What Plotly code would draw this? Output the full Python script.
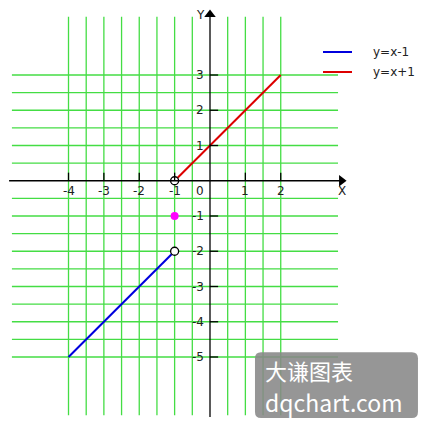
import plotly.graph_objects as go

# data
blue_x = [-4, -1]
blue_y = [-5, -2]
red_x = [-1, 2]
red_y = [0, 3]
open_x = [-1, -1]
open_y = [0, -2]
dot_x = [-1]
dot_y = [-1]

x_ticks = [-4, -3, -2, -1, 1, 2]
y_ticks = [3, 2, 1, -1, -2, -3, -4, -5]
x_grid = [-4, -3.5, -3, -2.5, -2, -1.5, -1, -0.5, 0.5, 1, 1.5, 2]
y_grid = [3, 2.5, 2, 1.5, 1, 0.5, -0.5, -1, -1.5, -2, -2.5, -3, -3.5, -4, -4.5, -5]

series_names = ["y=x-1", "y=x+1"]
series_colors = ["#0000dd", "#dd0000"]

GREEN = "#44dd44"
FONT = "DejaVu Sans"


def px(xp):
    return xp / 430


def py(yp):
    return 1 - yp / 430


fig = go.Figure()

shapes = []
for gx in x_grid:
    shapes.append(dict(type="line", xref="x", yref="y", x0=gx, x1=gx, y0=4.65, y1=-6.65,
                       line=dict(color=GREEN, width=1.3), layer="below"))
for gy in y_grid:
    shapes.append(dict(type="line", xref="x", yref="y", x0=-5.6, x1=3.62, y0=gy, y1=gy,
                       line=dict(color=GREEN, width=1.3), layer="below"))

# axes
shapes.append(dict(type="line", xref="x", yref="y", x0=-5.68, x1=3.7, y0=0, y1=0,
                   line=dict(color="black", width=1.3)))
shapes.append(dict(type="line", xref="x", yref="y", x0=0, x1=0, y0=4.7, y1=-6.7,
                   line=dict(color="black", width=1.3)))
for tx in x_ticks:
    shapes.append(dict(type="line", xref="x", yref="y", x0=tx, x1=tx, y0=0, y1=0.23,
                       line=dict(color="black", width=1.3)))
for ty in y_ticks:
    shapes.append(dict(type="line", xref="x", yref="y", x0=0, x1=0.23, y0=ty, y1=ty,
                       line=dict(color="black", width=1.3)))

# legend (drawn by hand to match the spacing)
ann = []
for i, (nm, col) in enumerate(zip(series_names, series_colors)):
    yl = 52 + 20 * i
    shapes.append(dict(type="line", xref="paper", yref="paper", x0=px(323), x1=px(352),
                       y0=py(yl), y1=py(yl), line=dict(color=col, width=2)))
    ann.append(dict(x=px(371), y=py(yl), xref="paper", yref="paper", text=nm,
                    showarrow=False, xanchor="left", yanchor="middle",
                    font=dict(family=FONT, size=12, color="#222")))

# watermark box
shapes.append(dict(type="path", xref="paper", yref="paper",
                   path="M 0.607,0.181 L 0.958,0.181 Q 0.972,0.181 0.972,0.167 "
                        "L 0.972,0.042 Q 0.972,0.028 0.958,0.028 L 0.607,0.028 "
                        "Q 0.593,0.028 0.593,0.042 L 0.593,0.167 Q 0.593,0.181 0.607,0.181 Z",
                   fillcolor="rgba(135,135,135,0.88)", line=dict(width=0), layer="above"))

fig.add_trace(go.Scatter(x=blue_x, y=blue_y, mode="lines", name=series_names[0],
                         line=dict(color=series_colors[0], width=2)))
fig.add_trace(go.Scatter(x=red_x, y=red_y, mode="lines", name=series_names[1],
                         line=dict(color=series_colors[1], width=2)))
fig.add_trace(go.Scatter(x=open_x, y=open_y, mode="markers",
                         marker=dict(color="white", size=8, line=dict(color="black", width=1.3))))
fig.add_trace(go.Scatter(x=dot_x, y=dot_y, mode="markers",
                         marker=dict(color="#ff00ff", size=8)))
# arrow heads
fig.add_trace(go.Scatter(x=[3.72], y=[0], mode="markers",
                         marker=dict(symbol="triangle-right", color="black", size=10)))
fig.add_trace(go.Scatter(x=[0], y=[4.72], mode="markers",
                         marker=dict(symbol="triangle-up", color="black", size=10)))

for tx in x_ticks:
    ann.append(dict(x=tx, y=-0.28, xref="x", yref="y", text=str(tx), showarrow=False,
                    font=dict(family=FONT, size=12, color="#222")))
ann.append(dict(x=-0.28, y=-0.28, xref="x", yref="y", text="0", showarrow=False,
                font=dict(family=FONT, size=12, color="#222")))
for ty in y_ticks:
    ann.append(dict(x=-0.1, y=ty, xref="x", yref="y", text=str(ty), showarrow=False,
                    xanchor="right", font=dict(family=FONT, size=12, color="#222")))
ann.append(dict(x=3.72, y=-0.28, xref="x", yref="y", text="X", showarrow=False,
                font=dict(family=FONT, size=12, color="#222")))
ann.append(dict(x=-0.28, y=4.7, xref="x", yref="y", text="Y", showarrow=False,
                font=dict(family=FONT, size=12, color="#222")))
ann.append(dict(x=px(263), y=py(370), xref="paper", yref="paper",
                text="大谦图表", showarrow=False, xanchor="left", yanchor="middle",
                font=dict(family="Noto Sans CJK SC", size=22, color="white")))
ann.append(dict(x=px(263), y=py(402), xref="paper", yref="paper",
                text="dqchart.com", showarrow=False, xanchor="left", yanchor="middle",
                font=dict(family="Noto Sans CJK SC", size=23, color="white")))

fig.update_layout(
    width=430, height=430,
    margin=dict(l=0, r=0, t=0, b=0),
    paper_bgcolor="white", plot_bgcolor="white",
    xaxis=dict(range=[-5.937, 6.22], visible=False, fixedrange=True),
    yaxis=dict(range=[-7.071, 5.128], visible=False, fixedrange=True),
    shapes=shapes, annotations=ann,
    showlegend=False,
)

fig.write_html("out.html", config={"displayModeBar": False},
               post_script="document.body.style.margin='0';")
